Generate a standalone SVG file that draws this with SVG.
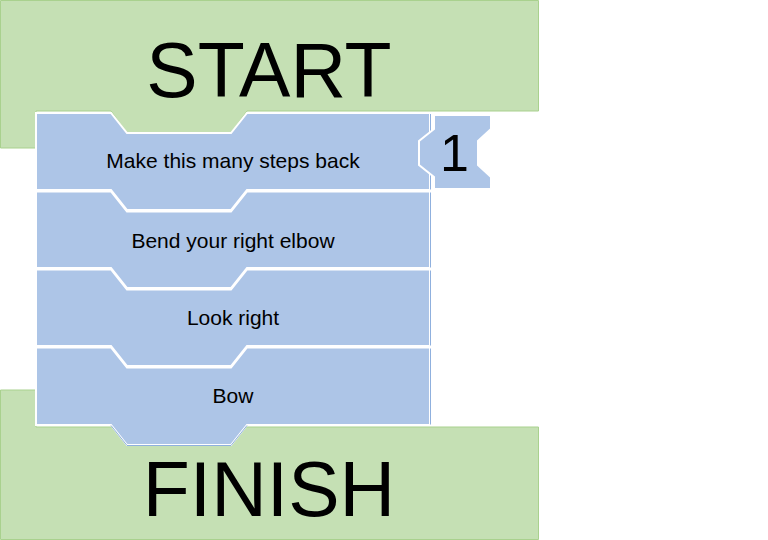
<svg xmlns="http://www.w3.org/2000/svg" width="768" height="540" viewBox="0 0 768 540">
<style>
.green{fill:#c5e0b4;stroke:#a9d18e;stroke-width:1}
.block{fill:#adc5e7;stroke:#ffffff;stroke-width:2;stroke-linejoin:miter}
.edge{fill:none;stroke:#8fb0de;stroke-width:1}
.big{font-family:"Liberation Sans",Arial,sans-serif;font-size:77px;fill:#000;text-anchor:middle}
.lbl{font-family:"Liberation Sans",Arial,sans-serif;font-size:21px;fill:#000;text-anchor:middle}
.num{font-family:"Liberation Sans",Arial,sans-serif;font-size:52px;fill:#000;text-anchor:middle}
</style>
<rect width="768" height="540" fill="#ffffff"/>
<g id="start">
<path class="green" d="M0.5,0.5 H538.5 V111 H247 L231,133 H127 L111,111 H36 V148 H0.5 Z"/>
<text class="big" x="269" y="97">START</text>
</g>
<g id="finish">
<path class="green" d="M0.5,390 H36 V427 H538.5 V539.5 H0.5 Z"/>
<text class="big" x="269" y="516">FINISH</text>
</g>
<g id="connectors"></g>
<g id="block1">
<path class="block" d="M36,113 H111 L127,133 H231 L247,113 H430 V190 H247 L231,210 H127 L111,190 H36 Z"/>
<path class="edge" d="M430.5,114 V189.5"/>
<text class="lbl" x="233" y="167.7">Make this many steps back</text>
</g>
<g id="block2">
<path class="block" d="M36,191.5 H111 L127,211.5 H231 L247,191.5 H430 V268 H247 L231,288 H127 L111,268 H36 Z"/>
<path class="edge" d="M430.5,192.5 V267.5"/>
<text class="lbl" x="233" y="247.7">Bend your right elbow</text>
</g>
<g id="block3">
<path class="block" d="M36,269.5 H111 L127,289.5 H231 L247,269.5 H430 V346 H247 L231,366 H127 L111,346 H36 Z"/>
<path class="edge" d="M430.5,270.5 V345.5"/>
<text class="lbl" x="233" y="325">Look right</text>
</g>
<g id="block4">
<path class="block" d="M36,347.5 H111 L127,367.5 H231 L247,347.5 H430 V425 H247 L231,445 H127 L111,425 H36 Z"/>
<path class="edge" d="M430.5,348.5 V424.5 M247,425.5 L231,445.5 H127 L111,425.5"/>
<text class="lbl" x="233" y="402.7">Bow</text>
</g>
<g id="number">
<path class="block" d="M434,115 H491 V129 L478,141 V165 L491,177 V189 H434 V177 L419,165 V141 L434,129 Z"/>
<text class="num" x="454.5" y="170.7">1</text>
</g>
</svg>
